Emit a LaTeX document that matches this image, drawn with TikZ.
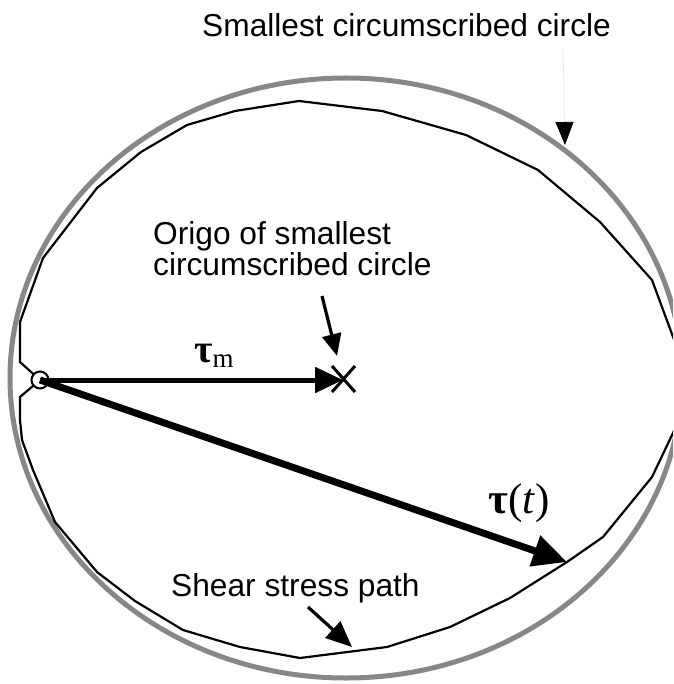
\documentclass[tikz,border=0pt]{standalone}
\usepackage{fontspec}
\setmainfont{Liberation Sans}
\newfontfamily\serifgreek{Liberation Serif}
\usetikzlibrary{arrows.meta}
\begin{document}
\begin{tikzpicture}[x=1pt,y=-1pt,
  lbl/.style={font=\fontsize{31.7}{30}\selectfont, inner sep=0pt, anchor=base west, align=left},
  circ/.style={draw=black!47, line width=5pt},
  stresspath/.style={draw=black, line width=2.2pt, line join=miter},
  ptr/.style={draw=black, line width=3.2pt, -{Triangle[length=22pt,width=19pt]}},
  vec/.style={draw=black, -{Triangle[length=28pt,width=25pt]}}]
\useasboundingbox (0,0) rectangle (673,684);
\clip (0,0) rectangle (673,684);
\fill[white] (0,0) rectangle (673,684);
% smallest circumscribed circle
\draw[circ] (346,378) ellipse [x radius=336pt, y radius=300pt];
% shear stress path
\draw[stresspath] (40,380) -- (20,397) -- (20,420) -- (22,440) -- (33,470) -- (55,522) -- (97,572)
  -- (135,601) -- (183,630) -- (240,647) -- (300,658) -- (387,647) -- (450,627) -- (510,598)
  -- (567,562) -- (603,537) -- (652,477) -- (693,391) -- (652,280) -- (600,222) -- (538,170)
  -- (466,135) -- (382,111) -- (299,101) -- (235,111) -- (187,125) -- (141,152) -- (97,188)
  -- (43,258) -- (20,322) -- (20,362) -- cycle;
% start point
\node[circle, draw=black, fill=white, line width=2pt, minimum size=17pt, inner sep=0pt] (o) at (40,380) {};
% origin marker
\coordinate (m) at (343,380);
\draw[line width=3pt] (332,366) -- (355,392) (355,366) -- (332,392);
% vectors
\coordinate (tt) at (567,562);
\draw[vec, line width=5pt] (o.center) -- (m);
\draw[vec, line width=7pt, -{Triangle[length=34pt,width=31pt]}] (o.center) -- (tt);
% labels
\node[lbl] (top) at (202,37) {Smallest circumscribed circle};
\node[lbl] (orig) at (153,275) {Origo of smallest\\circumscribed circle};
\node[lbl] (shear) at (171,596) {Shear stress path};
\node[inner sep=0pt, anchor=base west] (taum) at (194,362)
  {\serifgreek\fontsize{40}{40}\selectfont\bfseries τ\raisebox{-5pt}{\fontsize{27}{27}\selectfont\mdseries m}};
\node[inner sep=0pt, anchor=base west] (taut) at (488,513)
  {\serifgreek\fontsize{43}{43}\selectfont{\bfseries τ}(\textit{t})};
% pointer arrows
\coordinate (a1s) at (563,48);
\coordinate (a1e) at (565,145);
\draw[draw=black!8, line width=0.8pt, -{Triangle[length=23pt,width=18pt,color=black]}] (a1s) -- (a1e);
\coordinate (a2s) at (322,296);
\coordinate (a2e) at (337,356);
\draw[ptr] (a2s) -- (a2e);
\coordinate (a3s) at (308,607);
\coordinate (a3e) at (352,647);
\draw[ptr, -{Triangle[length=26pt,width=22pt]}] (a3s) -- (a3e);
\end{tikzpicture}
\end{document}
